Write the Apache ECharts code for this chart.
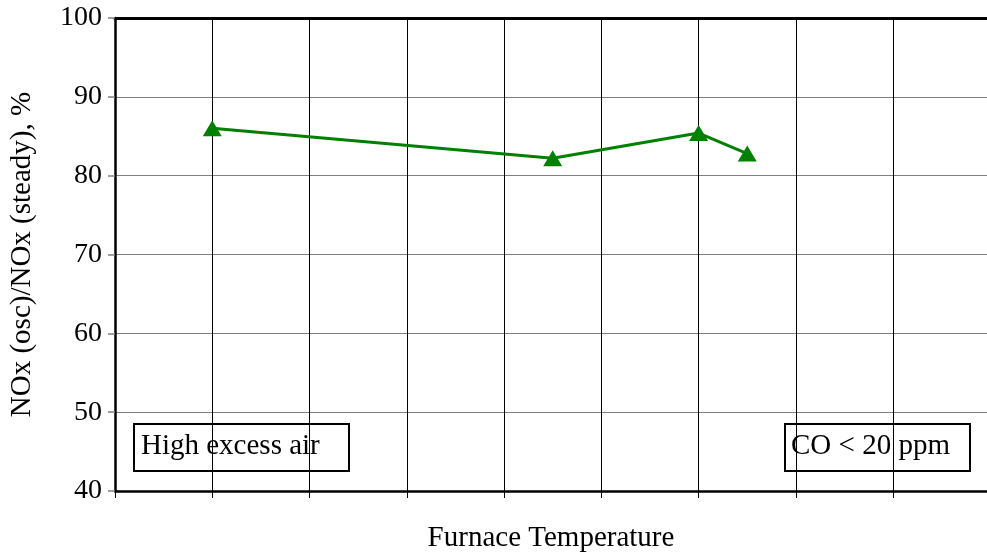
<!DOCTYPE html>
<html>
<head>
<meta charset="utf-8">
<script src="https://cdn.jsdelivr.net/npm/echarts@6/dist/echarts.min.js"></script>
<style>
  html, body { margin: 0; padding: 0; background: #fff; }
  #chart { width: 987px; height: 555px; }
</style>
</head>
<body>
<div id="chart"></div>
<script>
  // readings (x in grid steps, no labels shown)
  var tempPos = [1, 4.5, 6, 6.5];
  var noxRatio = [86.0, 82.2, 85.4, 82.8];
  var yTicks = [40, 50, 60, 70, 80, 90, 100];

  var serif = '"Liberation Serif", "Times New Roman", serif';
  var myChart = echarts.init(document.getElementById('chart'));

  var points = tempPos.map(function (x, i) { return [x, noxRatio[i]]; });

  // the plot runs a few pixels past the right edge of the window
  var xMax = 8.965;

  var option = {
    animation: false,
    grid: { left: 115, right: 0, top: 18, bottom: 64, outerBoundsMode: 'none', containLabel: false },
    xAxis: [{
      type: 'value', min: 0, max: xMax, interval: 1,
      name: 'Furnace Temperature', nameLocation: 'middle', nameGap: 33,
      nameTextStyle: { fontFamily: serif, fontSize: 29, color: '#000' },
      axisLine: { show: true, lineStyle: { color: '#000', width: 2.5 } },
      axisTick: { show: true, length: 7, lineStyle: { color: '#000', width: 1 } },
      axisLabel: { show: false },
      splitLine: { show: true, lineStyle: { color: '#000', width: 1 } }
    }, {
      type: 'value', position: 'top', min: 0, max: xMax, interval: 1,
      axisLine: { show: true, lineStyle: { color: '#000', width: 3 } },
      axisTick: { show: false }, axisLabel: { show: false }, splitLine: { show: false }
    }],
    yAxis: {
      type: 'value', min: yTicks[0], max: yTicks[yTicks.length - 1], interval: 10,
      name: 'NOx (osc)/NOx (steady), %', nameLocation: 'middle', nameGap: 78,
      nameTextStyle: { fontFamily: serif, fontSize: 29, color: '#000' },
      axisLine: { show: true, lineStyle: { color: '#000', width: 2.5 } },
      axisTick: { show: true, inside: false, length: 7, lineStyle: { color: '#808080', width: 1.5 } },
      axisLabel: { fontFamily: serif, fontSize: 28, color: '#000', margin: 13 },
      splitLine: { show: true, lineStyle: { color: '#808080', width: 1 } }
    },
    series: [{
      type: 'line',
      data: points,
      symbol: 'triangle',
      symbolSize: [19, 16],
      itemStyle: { color: '#008000' },
      lineStyle: { color: '#008000', width: 3 }
    }],
    graphic: [
      {
        type: 'group', left: 133, top: 423,
        children: [
          { type: 'rect', shape: { x: 0, y: 0, width: 215, height: 47 },
            style: { fill: '#fff', stroke: '#000', lineWidth: 2 } },
          { type: 'text', x: 7, y: 8,
            style: { text: 'High excess air', font: '29px ' + serif, fill: '#000' } }
        ]
      },
      {
        type: 'group', left: 784, top: 423,
        children: [
          { type: 'rect', shape: { x: 0, y: 0, width: 185, height: 47 },
            style: { fill: '#fff', stroke: '#000', lineWidth: 2 } },
          { type: 'text', x: 6, y: 8,
            style: { text: 'CO < 20 ppm', font: '29px ' + serif, fill: '#000' } }
        ]
      }
    ]
  };

  myChart.setOption(option);
</script>
</body>
</html>
